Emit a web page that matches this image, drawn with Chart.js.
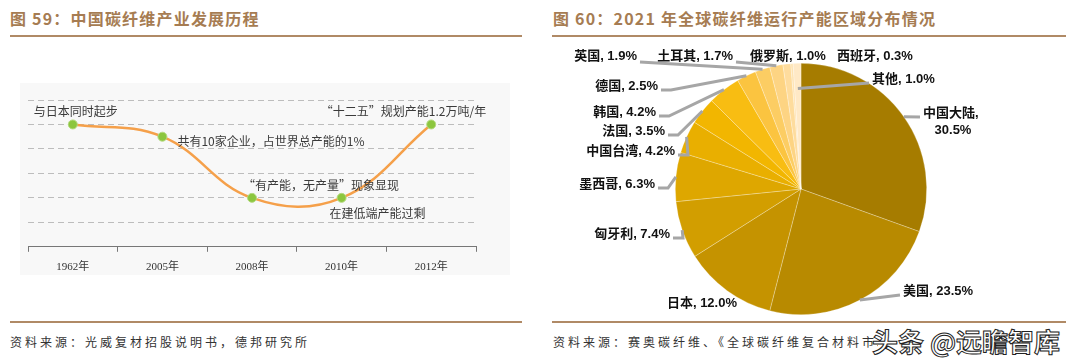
<!DOCTYPE html>
<html>
<head>
<meta charset="utf-8">
<script src="https://cdn.jsdelivr.net/npm/chart.js@4"></script>
<style>
body{margin:0;width:1080px;height:364px;background:#fff;position:relative;overflow:hidden;font-family:"Noto Sans CJK SC",sans-serif}
.title{position:absolute;top:6px;font-size:16px;font-weight:bold;color:#a67c52;letter-spacing:1.2px;line-height:24px;white-space:nowrap}
.rule{position:absolute;height:2px;background:#b08a66}
.src{position:absolute;top:332px;font-size:12px;color:#333;letter-spacing:3px;line-height:20px;white-space:nowrap;overflow:hidden}
.mark{position:absolute;left:872px;top:325px;font-size:26px;font-weight:bold;color:#fff;-webkit-text-stroke:1px #222;line-height:32px;white-space:nowrap}
#lineBg{position:absolute;left:20px;top:83px;width:490px;height:192px;background:#f8f8f8}
#lineWrap{position:absolute;left:20px;top:83px;width:490px;height:200px}
#pieWrap{position:absolute;left:553px;top:45px;width:520px;height:275px}
</style>
</head>
<body>
<div class="title" style="left:10px">图 59：中国碳纤维产业发展历程</div>
<div class="rule" style="left:10px;top:35px;width:512px"></div>
<div class="title" style="left:553px">图 60：2021 年全球碳纤维运行产能区域分布情况</div>
<div class="rule" style="left:552px;top:35px;width:514px"></div>

<div id="lineBg"></div>
<div id="lineWrap"><canvas id="history" width="490" height="200"></canvas></div>
<div id="pieWrap"><canvas id="share" width="520" height="275"></canvas></div>

<div class="rule" style="left:10px;top:321px;width:512px"></div>
<div class="rule" style="left:552px;top:321px;width:514px"></div>
<div class="src" style="left:10px">资料来源：光威复材招股说明书，德邦研究所</div>
<div class="src" style="left:553px;width:325px">资料来源：赛奥碳纤维、《全球碳纤维复合材料市场报告》，德邦研究所</div>
<div class="mark">头条 @远瞻智库</div>

<script>
// left: development stages
var years = ['1962年', '2005年', '2008年', '2010年', '2012年'];
var stageLevel = [5, 4.5, 2, 2, 5];
var stageNotes = ['与日本同时起步', '共有10家企业，占世界总产能的1%', '“有产能，无产量”现象显现', '在建低端产能过剩', '“十二五”规划产能1.2万吨/年'];

// right: 2021 capacity share by region
var regions = ['中国大陆', '美国', '日本', '匈牙利', '墨西哥', '中国台湾', '法国', '韩国', '德国', '英国', '土耳其', '俄罗斯', '西班牙', '其他'];
var capacityShare = [30.5, 23.5, 12.0, 7.4, 6.3, 4.2, 3.5, 4.2, 2.5, 1.9, 1.7, 1.0, 0.3, 1.0];

var sliceColors = ['#a67c00', '#b88a00', '#c59300', '#d29e00', '#dea700', '#e9af00', '#f2b600',
    '#f8bd12', '#fbc440', '#fccd63', '#fdd483', '#fedc9d', '#fee3b2', '#ffe9c6'];

// note placement relative to each point: dx, dy, align
var noteOffsets = [[3, -13, 'center'], [15, 5, 'left'], [-9, -12, 'left'], [-12, 16, 'left'], [55, -13, 'right']];

// label placement relative to pie centre: dx, dy, align, leader?, elbow, anchor radius factor
var pieLabelPos = [
    [122, -76, 'left', true, 0, 1],
    [102, 102, 'left', true, 0, 1],
    [-64, 114, 'right', false, 0, 1],
    [-131, 45, 'right', true, 10, 1],
    [-146, -5, 'right', true, 10, 1],
    [-126, -38, 'right', true, 10, 1],
    [-136, -58, 'right', true, 10, 1],
    [-145, -77, 'right', true, 10, 1],
    [-143, -103, 'right', true, 10, 1],
    [-164, -133, 'right', true, 0, 1],
    [-68, -133, 'right', true, 0, 1],
    [-51, -133, 'left', false, 0, 1],
    [36, -133, 'left', false, 0, 1],
    [71, -110, 'left', true, 0, 0.8]
];

var notesPlugin = {
    id: 'notes',
    afterDatasetsDraw: function (chart) {
        var ctx = chart.ctx;
        var pts = chart.getDatasetMeta(0).data;
        ctx.save();
        ctx.font = '12px "Noto Sans CJK SC"';
        ctx.fillStyle = '#3a3a3a';
        ctx.textBaseline = 'middle';
        pts.forEach(function (p, i) {
            var o = noteOffsets[i];
            ctx.textAlign = o[2];
            ctx.fillText(stageNotes[i], p.x + o[0], p.y + o[1]);
        });
        ctx.restore();
    }
};

var ctx = document.getElementById('history');
var history = new Chart(ctx, {
    type: 'line',
    data: {
        labels: years,
        datasets: [{
            data: stageLevel,
            borderColor: '#f5a04a',
            borderWidth: 2.5,
            tension: 0.4,
            pointRadius: 4.5,
            pointBackgroundColor: '#8cc63e',
            pointBorderColor: '#b3d97f',
            pointBorderWidth: 1,
            fill: false
        }]
    },
    options: {
        responsive: false,
        animation: false,
        devicePixelRatio: 1,
        layout: { padding: { left: 8, right: 34, top: 17, bottom: 0 } },
        plugins: { legend: { display: false }, tooltip: { enabled: false } },
        scales: {
            x: {
                offset: true,
                grid: { offset: true, drawOnChartArea: false, drawTicks: true, tickLength: 5, color: '#777' },
                border: { color: '#777' },
                ticks: { color: '#333', padding: 9, font: { family: '"Liberation Serif", "Noto Sans CJK SC"', size: 11 } }
            },
            y: {
                min: 0,
                max: 6,
                ticks: { display: false, stepSize: 1 },
                grid: { color: '#bdbdbd', drawTicks: false, lineWidth: 1 },
                border: { display: false, dash: [6, 4] }
            }
        }
    },
    plugins: [notesPlugin]
});

var pieLabels = {
    id: 'pieLabels',
    afterDatasetsDraw: function (chart) {
        var c = chart.ctx;
        var arcs = chart.getDatasetMeta(0).data;
        c.save();
        c.font = 'bold 13px "Liberation Sans", "Noto Sans CJK SC"';
        c.fillStyle = '#111';
        c.textBaseline = 'middle';
        arcs.forEach(function (a, i) {
            var lp = pieLabelPos[i];
            var cx = a.x, cy = a.y;
            var mid = (a.startAngle + a.endAngle) / 2;
            var r = a.outerRadius * lp[5];
            var ex = cx + Math.cos(mid) * r, ey = cy + Math.sin(mid) * r;
            var lx = cx + lp[0], ly = cy + lp[1];
            var txt = regions[i] + ', ' + capacityShare[i].toFixed(1) + '%';
            if (lp[3]) {
                c.strokeStyle = '#a6a6a6';
                c.lineWidth = 3;
                c.beginPath();
                if (lp[2] === 'right') {
                    var sy = ly + (lp[4] ? 4 : 6);
                    c.moveTo(lx + 3, sy);
                    if (lp[4]) c.lineTo(lx + 3 + lp[4], sy);
                } else {
                    c.moveTo(lx - 3, ly + 4);
                }
                c.lineTo(ex, ey);
                c.stroke();
            }
            c.textAlign = lp[2];
            if (i === 0) {
                c.fillText(regions[i] + ',', lx, ly);
                c.textAlign = 'center';
                c.fillText(capacityShare[i].toFixed(1) + '%', lx + 30, ly + 17);
            } else {
                c.fillText(txt, lx, ly);
            }
        });
        c.restore();
    }
};

var ctx = document.getElementById('share');
var share = new Chart(ctx, {
    type: 'pie',
    data: {
        labels: regions,
        datasets: [{
            data: capacityShare,
            backgroundColor: sliceColors,
            borderColor: 'rgba(255,255,255,0.45)',
            borderWidth: 0.6
        }]
    },
    options: {
        responsive: false,
        animation: false,
        devicePixelRatio: 1,
        layout: { padding: { left: 122, right: 146, top: 18, bottom: 5 } },
        plugins: { legend: { display: false }, tooltip: { enabled: false } }
    },
    plugins: [pieLabels]
});
</script>
</body>
</html>
